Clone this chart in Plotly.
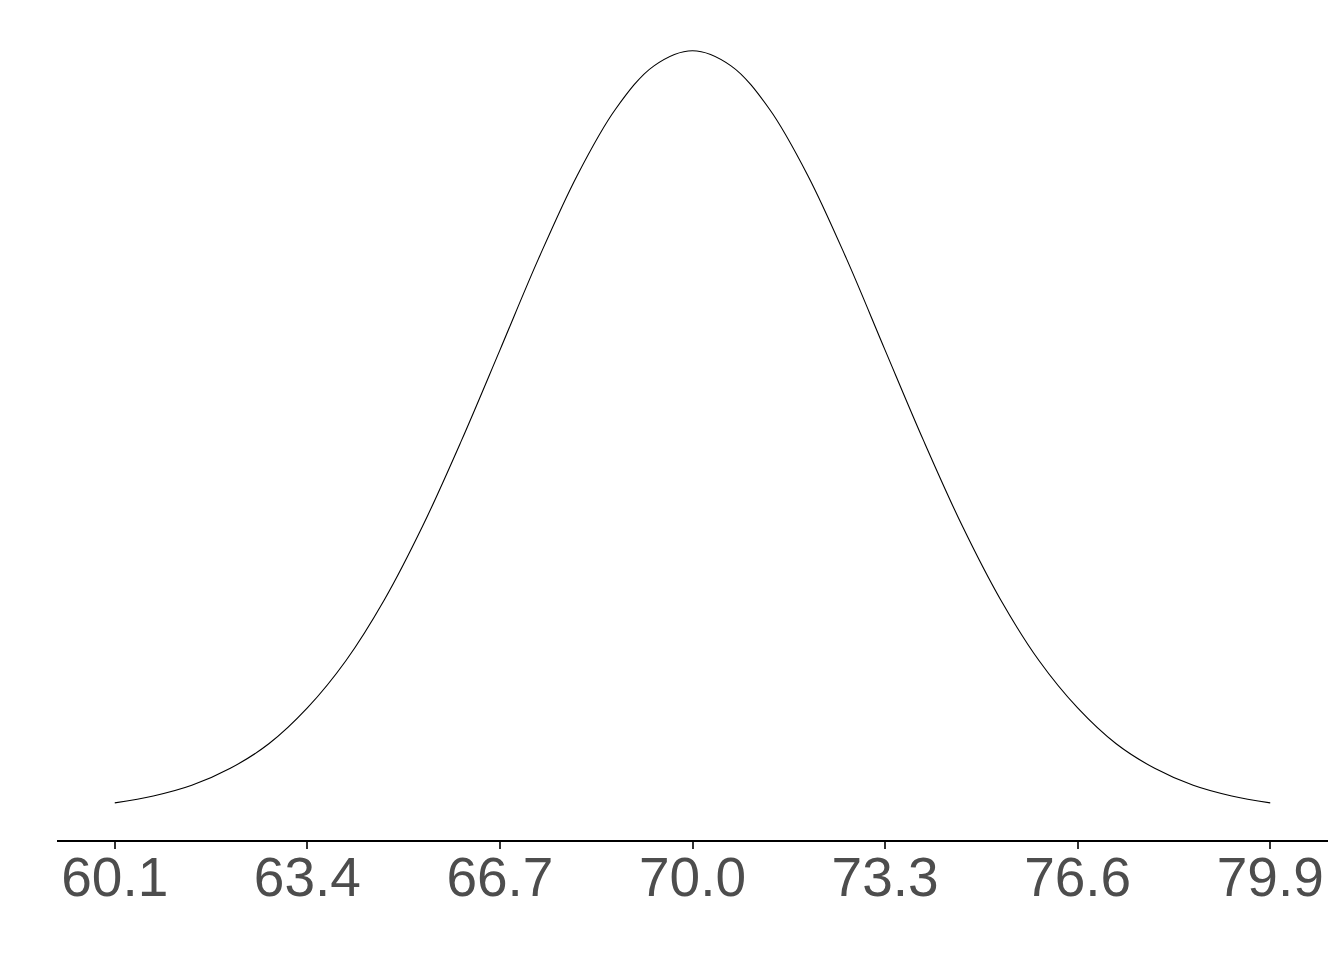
import plotly.graph_objects as go

# values (density curve)
x_vals = [60.1, 60.76, 61.42, 62.08, 62.74, 63.4, 64.06, 64.72, 65.38, 66.04, 66.7,
          67.36, 68.02, 68.68, 69.34, 70.0, 70.66, 71.32, 71.98, 72.64, 73.3,
          73.96, 74.62, 75.28, 75.94, 76.6, 77.26, 77.92, 78.58, 79.24, 79.9]
y_vals = [0.0013, 0.0024, 0.0041, 0.0068, 0.0107, 0.0164, 0.0239, 0.0336, 0.0454, 0.0589, 0.0733,
          0.0878, 0.1010, 0.1116, 0.1185, 0.1209, 0.1185, 0.1116, 0.1010, 0.0878, 0.0733,
          0.0589, 0.0454, 0.0336, 0.0239, 0.0164, 0.0107, 0.0068, 0.0041, 0.0024, 0.0013]
tick_vals = [60.1, 63.4, 66.7, 70.0, 73.3, 76.6, 79.9]
tick_text = ["60.1", "63.4", "66.7", "70.0", "73.3", "76.6", "79.9"]

fig = go.Figure(go.Scatter(x=x_vals, y=y_vals, mode="lines",
                           line=dict(color="black", width=1.1, shape="spline", smoothing=1.0),
                           hoverinfo="skip"))
fig.update_layout(
    width=1344, height=960,
    margin=dict(l=49, r=24, t=5, b=128, autoexpand=False),
    paper_bgcolor="white", plot_bgcolor="white",
    showlegend=False,
    xaxis=dict(range=[59.11, 80.89], tickvals=tick_vals, ticktext=tick_text,
               showgrid=False, zeroline=False, showline=True, linecolor="black", linewidth=2,
               ticks="outside", ticklen=7, tickwidth=2, tickcolor="#333333",
               ticklabelstandoff=-19,
               tickfont=dict(family="Liberation Sans, Arial", size=55, color="#4D4D4D")),
    yaxis=dict(range=[-0.0046, 0.1269], visible=False, showgrid=False, zeroline=False),
)
fig.write_html("out.html")
